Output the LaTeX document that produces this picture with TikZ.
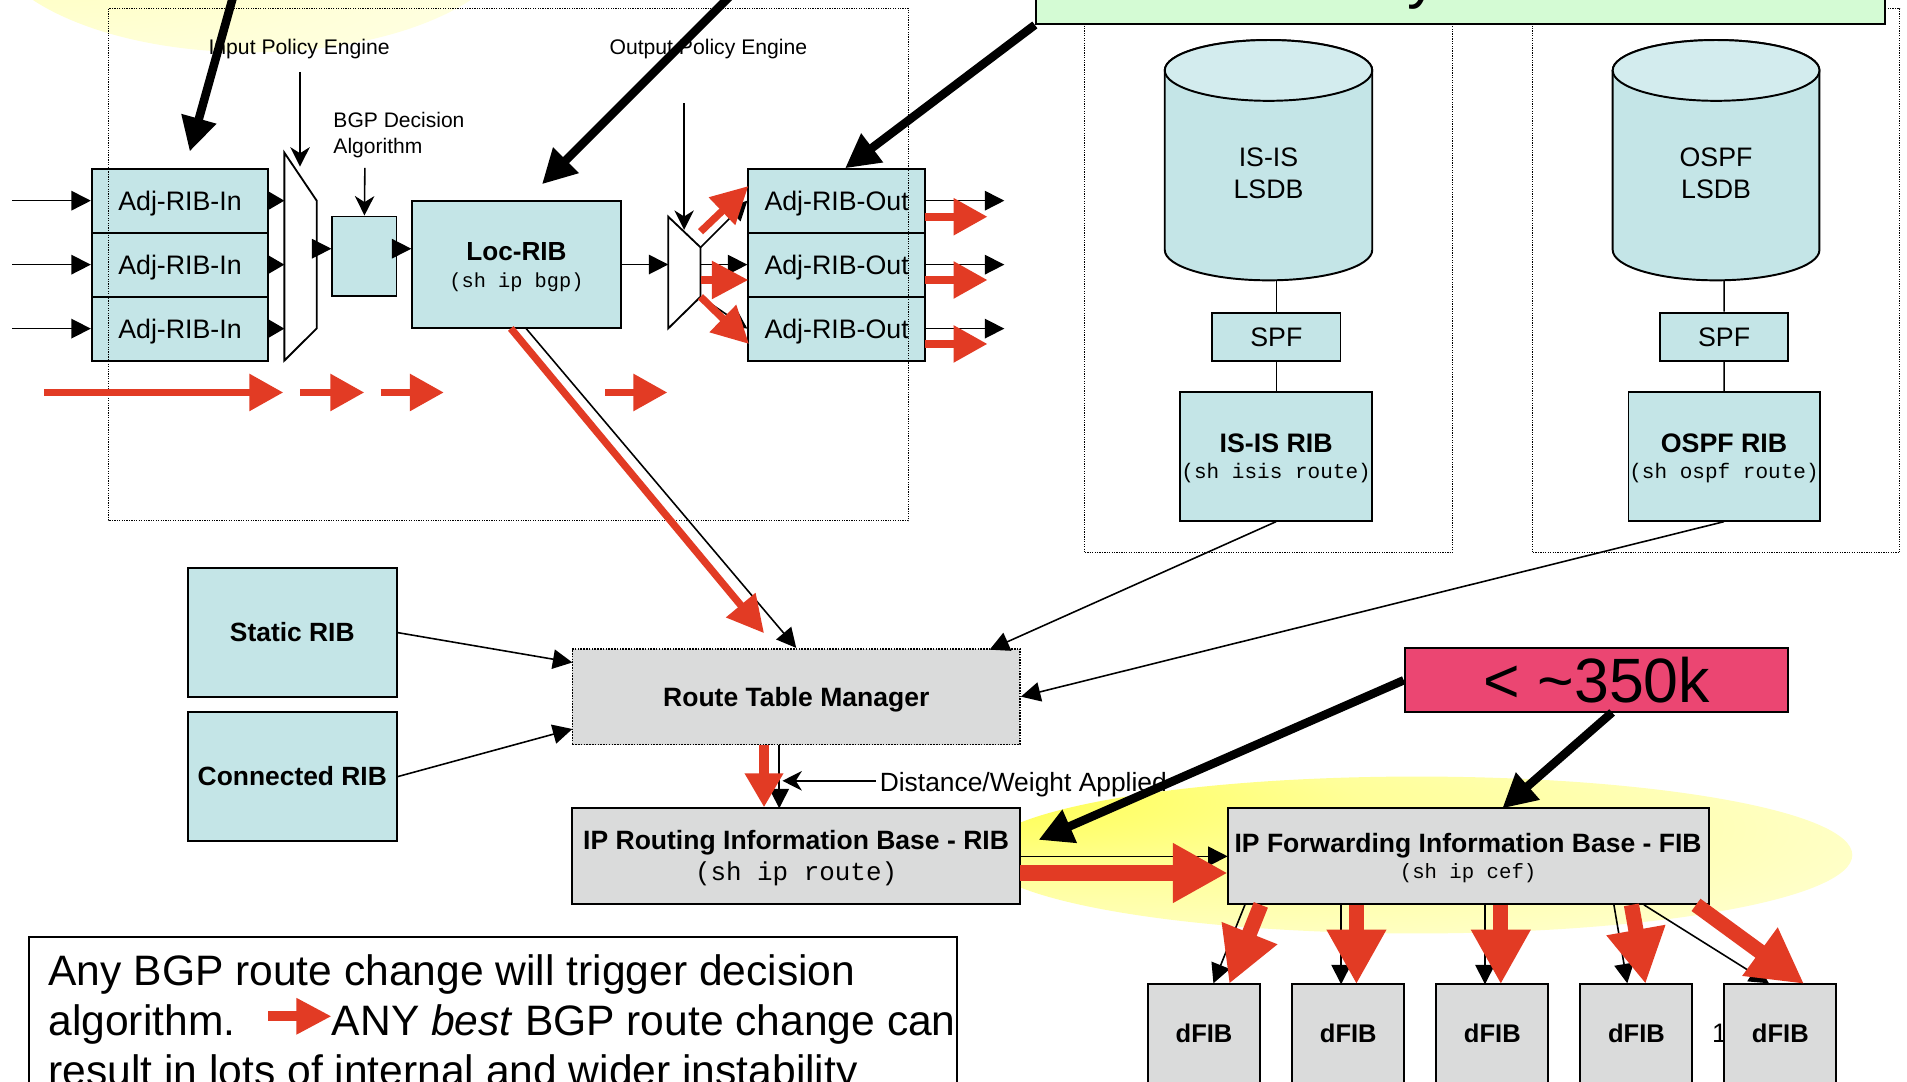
\documentclass[tikz,border=0pt]{standalone}
\usepackage{fontspec}
\setmainfont{Liberation Sans}
\setmonofont{Liberation Mono}
\usetikzlibrary{arrows.meta}
\definecolor{cyanc}{RGB}{196,229,231}
\definecolor{cyantop}{RGB}{211,236,238}
\definecolor{grayc}{RGB}{218,219,219}
\definecolor{greenc}{RGB}{212,251,212}
\definecolor{pinkc}{RGB}{235,70,114}
\definecolor{redc}{RGB}{226,59,36}
\pgfdeclareradialshading{ytop}{\pgfpoint{-32bp}{6bp}}{color(0bp)=(yellow!32); color(28bp)=(yellow!15); color(50bp)=(yellow!6)}
\pgfdeclareradialshading{ybot}{\pgfpoint{-38bp}{24bp}}{color(0bp)=(yellow!85); color(20bp)=(yellow!40); color(50bp)=(yellow!7)}
\newcommand{\myfs}[1]{\fontsize{#1}{#1}\selectfont}
\begin{document}
\begin{tikzpicture}[x=1pt,y=-1pt,
  cbox/.style={draw=black, line width=1.6pt, fill=cyanc, inner sep=0pt},
  gbox/.style={draw=black, line width=1.6pt, fill=grayc, inner sep=0pt},
  cont/.style={draw=black, line width=1pt, densely dotted},
  lbl/.style={inner sep=0pt, anchor=base},
  conn/.style={line width=1.3pt},
  blk/.style={conn, -{Triangle[length=16pt,width=16pt]}},
  stl/.style={conn, -{Stealth[length=16pt,width=16pt,inset=5pt]}},
  callout/.style={line width=7pt, -{Triangle[length=28pt,width=28pt]}},
  redS/.style={draw=redc, line width=6.5pt, -{Triangle[length=28pt,width=29pt]}},
  redM/.style={draw=redc, line width=6pt, -{Triangle[length=30pt,width=30pt]}},
  redR/.style={draw=redc, line width=8pt, -{Triangle[length=28pt,width=30pt]}},
  redB/.style={draw=redc, line width=12.5pt, -{Triangle[length=45pt,width=46pt]}},
  t22/.style={lbl, font=\myfs{22}},
  b22/.style={lbl, font=\bfseries\myfs{21.8}},
  pol/.style={lbl, anchor=base west, font=\myfs{17.4}},
  code/.style={lbl, font=\ttfamily\myfs{#1}}
]
\path[use as bounding box] (0,0) rectangle (1568,889);
\clip (0,0) rectangle (1568,889);
\fill[white] (0,0) rectangle (1568,889);

% yellow highlights
\shade[shading=ytop] (207,-57) ellipse [x radius=219pt, y radius=100pt];
\shade[shading=ybot] (1165,703) ellipse [x radius=358pt, y radius=64.5pt];

% IGP containers
\draw[cont] (891.5,7) rectangle (1194,454.5);
\draw[cont] (1260,7) rectangle (1562,454.5);

% green callout box (cut off)
\node[draw=black, line width=1.6pt, fill=greenc, inner sep=0pt, minimum width=698.1pt, minimum height=60pt] (green) at (1200.75,-10.3) {};
\node[lbl, anchor=base west, font=\myfs{51}] (greent) at (1157,-2.7) {y};

% Adj-RIB-In
\foreach \n/\y in {in1/165,in2/217.6,in3/270.2}{
  \node[cbox, minimum width=145pt, minimum height=52.6pt] (\n) at (148,\y) {};
  \node[t22] (\n t) at ([yshift=-7.9pt]\n.center) {Adj-RIB-In};
}
% Adj-RIB-Out
\foreach \n/\y in {out1/165,out2/217.6,out3/270.2}{
  \node[cbox, minimum width=145.2pt, minimum height=52.6pt] (\n) at (687.9,\y) {};
  \node[t22] (\n t) at ([yshift=-7.9pt]\n.center) {Adj-RIB-Out};
}
% decision box and Loc-RIB
\node[cbox, minimum width=52.7pt, minimum height=65.5pt] (dec) at (299.65,210.75) {};
\node[cbox, minimum width=171.3pt, minimum height=105pt] (loc) at (424.65,217.5) {};
\node[lbl, font=\bfseries\myfs{21.5}] (loct) at (424.65,214) {Loc-RIB};
\node[code=16.7] (locc) at (424.65,236.2) {(sh ip bgp)};

% input mux
\filldraw[fill=white, draw=black, line width=1.5pt] (233.8,125.5) coordinate (imA) -- (260.4,165) -- (260.4,270) -- (233.8,296.5) -- cycle;
% output mux
\filldraw[fill=white, draw=black, line width=1.5pt] (549.5,178.2) -- (576,203.4) coordinate (omB) -- (576,244) coordinate (omC) -- (549.5,270) -- cycle;

% cylinders
\filldraw[fill=cyanc, line width=1.6pt] (957.7,57.9) -- (957.7,205.5) arc[start angle=180, end angle=360, x radius=85.3pt, y radius=25pt] -- (1128.3,57.9) arc[start angle=0, end angle=180, x radius=85.3pt, y radius=25pt] -- cycle;
\filldraw[fill=cyantop, line width=1.6pt] (1043,57.9) ellipse [x radius=85.3pt, y radius=25pt];
\filldraw[fill=cyanc, line width=1.6pt] (1326,57.9) -- (1326,205.5) arc[start angle=180, end angle=360, x radius=85pt, y radius=25pt] -- (1496,57.9) arc[start angle=0, end angle=180, x radius=85pt, y radius=25pt] -- cycle;
\filldraw[fill=cyantop, line width=1.6pt] (1411,57.9) ellipse [x radius=85pt, y radius=25pt];
\node[t22] (isisl1) at (1043,137.1) {IS-IS};
\node[t22] (isisl2) at (1043,163.5) {LSDB};
\node[t22] (ospfl1) at (1411,137.1) {OSPF};
\node[t22] (ospfl2) at (1411,163.5) {LSDB};
\coordinate (isisbot) at (1049.5,230.4);
\coordinate (ospfbot) at (1417.6,230.4);

% SPF and RIBs
\node[cbox, minimum width=105.4pt, minimum height=39.6pt] (spf1) at (1049.5,276.8) {};
\node[t22] at ([yshift=-7.9pt]spf1.center) (spf1t) {SPF};
\node[cbox, minimum width=104.9pt, minimum height=39.6pt] (spf2) at (1417.65,276.8) {};
\node[t22] at ([yshift=-7.9pt]spf2.center) (spf2t) {SPF};
\node[cbox, minimum width=158.1pt, minimum height=105.7pt] (isisrib) at (1049.25,375.25) {};
\node[lbl, font=\bfseries\myfs{22}] (isisribt) at (1049.25,372) {IS-IS RIB};
\node[code=17.3] (isisribc) at (1049.25,393.5) {(sh isis route)};
\node[cbox, minimum width=157.1pt, minimum height=105.7pt] (ospfrib) at (1417.55,375.25) {};
\node[lbl, font=\bfseries\myfs{22}] (ospfribt) at (1417.55,372) {OSPF RIB};
\node[code=17.3] (ospfribc) at (1417.55,393.5) {(sh ospf route)};

% static / connected
\node[cbox, minimum width=171.7pt, minimum height=105.7pt] (static) at (240.35,520.15) {};
\node[lbl, font=\bfseries\myfs{21.7}] (statict) at (240.35,527.8) {Static RIB};
\node[cbox, minimum width=171.7pt, minimum height=105.5pt] (connrib) at (240.35,638.55) {};
\node[lbl, font=\bfseries\myfs{21.7}] (connt) at (240.35,646.1) {Connected RIB};

% RTM, RIB, FIB
\node[draw=black, line width=1.3pt, densely dotted, fill=grayc, inner sep=0pt, minimum width=368.2pt, minimum height=78.8pt] (rtm) at (654.7,572.8) {};
\node[b22] (rtmt) at (654.7,580.9) {Route Table Manager};
\node[gbox, minimum width=368.9pt, minimum height=78.7pt] (rib) at (654.55,703.95) {};
\node[b22] (ribt) at (654.55,698.3) {IP Routing Information Base - RIB};
\node[code=21.3] (ribc) at (654.55,724) {(sh ip route)};
\node[gbox, minimum width=395.4pt, minimum height=78.6pt] (fib) at (1207.1,704) {};
\node[b22] (fibt) at (1207.1,700.7) {IP Forwarding Information Base - FIB};
\node[code=17] (fibc) at (1207.1,722) {(sh ip cef)};

% 350k
\node[draw=black, line width=1.6pt, fill=pinkc, inner sep=0pt, minimum width=315pt, minimum height=53pt] (k350) at (1312.5,559.3) {};
\node[lbl, font=\myfs{51.5}] (k350t) at (1313,577.2) {< \textasciitilde350k};

% dFIBs
\node[lbl, anchor=base west, font=\myfs{22}] (one) at (1407.5,857.2) {1};
\foreach \n/\x in {dfib1/990,dfib2/1108.6,dfib3/1227.05,dfib4/1345.5,dfib5/1463.85}{
  \node[gbox, minimum width=92pt, minimum height=84pt] (\n) at (\x,851.3) {};
  \node[lbl, font=\bfseries\myfs{21}] (\n t) at ([yshift=-5.9pt]\n.center) {dFIB};
}

% BGP container (dotted, on top of boxes)
\draw[cont] (89,7) rectangle (747,428);
\node[pol] (ipe) at (171.3,44.4) {Input Policy Engine};
\node[pol] (ope) at (501,44.4) {Output Policy Engine};
\node[lbl, anchor=base west, font=\myfs{17.3}] (bgpd1) at (274,105.2) {BGP Decision};
\node[lbl, anchor=base west, font=\myfs{17.3}] (bgpd2) at (274,126.2) {Algorithm};

% bottom text box
\node[draw=black, line width=1.5pt, fill=white, inner sep=0pt, minimum width=762.9pt, minimum height=160pt, anchor=north west] (note) at (23.1,769.6) {};
\node[lbl, anchor=base west, font=\myfs{35}] (note1) at (39.7,810.7) {Any BGP route change will trigger decision};
\node[lbl, anchor=base west, font=\myfs{35}] (note2) at (39.7,851.8) {algorithm.};
\node[lbl, anchor=base west, font=\myfs{35}] (note3) at (272.7,851.8) {ANY \textit{best} BGP route change can};
\node[lbl, anchor=base west, font=\myfs{35}] (note4) at (39.7,892.9) {result in lots of internal and wider instability};
\coordinate (na1) at (220.6,835.6);
\draw[draw=redc, line width=8.2pt, -{Triangle[length=29pt,width=28pt]}] (na1) -- (note3.west |- na1);

% ---------- black connectors ----------
\foreach \n in {in1,in2,in3}{
  \draw[blk] (10,0 |- \n.west) -- (\n.west);
  \draw[conn, -{Triangle[length=14pt,width=16pt]}] (\n.east) -- (imA |- \n.east);
}
\draw[stl] (246.7,59) -- (246.7,137);
\draw[stl] (300,138) -- (dec.north);
\draw[blk] (260.4,204.5) -- (dec.west |- 0,204.5);
\draw[blk] (dec.east |- 0,204.5) -- (loc.west |- 0,204.5);
\draw[blk] (loc.east) -- (549.5,217.5);
\draw[stl] (562.5,85) -- (562.5,189);
\draw[blk] (omB) -- (out1.west);
\draw[blk] (576,217.6) -- (out2.west);
\draw[blk] (omC) -- (out3.west);
\foreach \n in {out1,out2,out3}{
  \draw[blk] (\n.east) -- (825.8,0 |- \n.east);
}
\draw[conn] (isisbot) -- (spf1.north);
\draw[conn] (spf1.south) -- (1049.5,322.4);
\draw[conn] (ospfbot) -- (spf2.north);
\draw[conn] (spf2.south) -- (1417.6,322.4);
\draw[blk] (isisrib.south) -- (813.7,534.2);
\draw[blk] (ospfrib.south) -- (rtm.east);
\draw[blk] (static.east) -- (470.6,544.7);
\draw[blk] (connrib.east) -- (470.6,599.4);
\draw[blk] (432.5,270) -- (rtm.north);
\draw[blk] (640.7,612.2) -- (640.7,664.6);
\coordinate (dwa) at (720,642);
\draw[stl] (dwa) -- (643.3,642);
\node[lbl, anchor=base west, font=\myfs{21.7}] (dwt) at (723.2,651) {Distance/Weight Applied};
\draw[blk] (839,704.1) -- (1009.4,704.1);
\draw[blk] (1023.6,744) -- (997.7,808.5);
\draw[blk] (1102.7,744) -- (1102.7,809.3);
\draw[blk] (1221,744) -- (1221,809.3);
\draw[blk] (1327,744) -- (1338,808.5);
\draw[blk] (1351.7,744) -- (1454.5,808.5);

% ---------- red arrows ----------
\draw[redS] (36.3,322.7) -- (233,322.7);
\draw[redS] (246.7,322.7) -- (299.6,322.7);
\draw[redS] (313,322.7) -- (365,322.7);
\draw[redS] (497.5,322.7) -- (548.8,322.7);
\draw[redM] (576,190.5) -- (615.3,153);
\draw[redM] (576,230.2) -- (615.3,230.2);
\draw[redM] (576,244) -- (615.8,282.8);
\draw[redS] (760.5,178.2) -- (812,178.2);
\draw[redS] (760.5,230.2) -- (812,230.2);
\draw[redS] (760.5,282.8) -- (812,282.8);
\draw[redM] (420,270) -- (628.2,520.6);
\draw[redR] (628.2,612.2) -- (628.2,663.8);
\draw[redB] (839,717.8) -- (1009.4,717.8);
\draw[redB] (1036.7,744) -- (1010.7,809);
\draw[redB] (1115.3,744) -- (1115.3,809.3);
\draw[redB] (1234,744) -- (1234,809.3);
\draw[redB] (1341.4,744) -- (1353,809);
\draw[redB] (1394.5,744) -- (1483.4,809);

% ---------- thick callout arrows ----------
\draw[callout] (192,-4) -- (156,124.6);
\draw[callout] (601,-4) -- (445.6,151.5);
\draw[callout] (green.south west) -- (694.8,138.4);
\draw[callout] (k350.west) -- (853.9,690.6);
\draw[callout] (1325.5,585.8) -- (1235.2,664.7);
\end{tikzpicture}
\end{document}
